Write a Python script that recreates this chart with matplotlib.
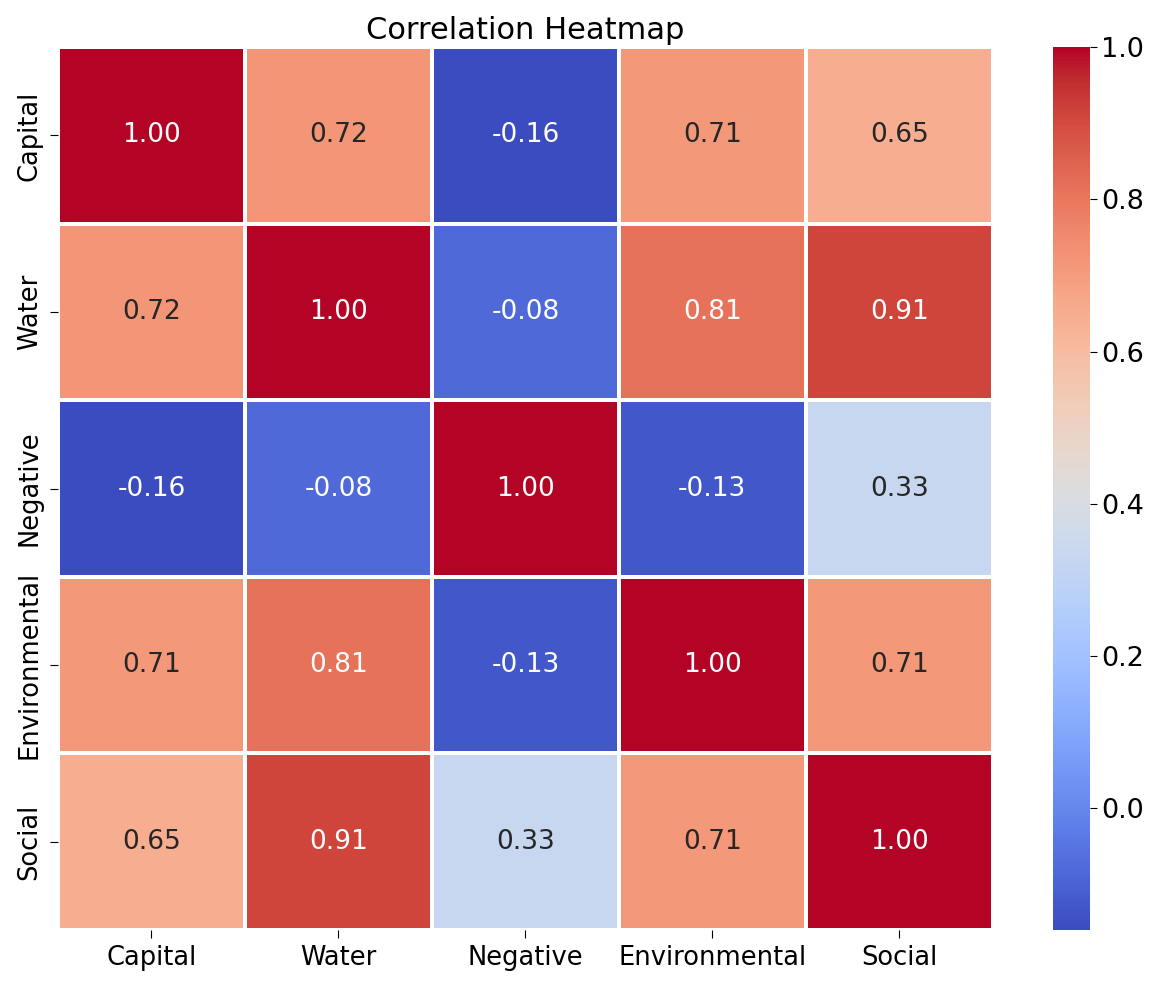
import numpy as np
import matplotlib
matplotlib.use("Agg")
import matplotlib.pyplot as plt
import seaborn as sns

labels = ["Capital", "Water", "Negative", "Environmental", "Social"]

capital = [1.00, 0.72, -0.16, 0.71, 0.65]
water = [0.72, 1.00, -0.08, 0.81, 0.91]
negative = [-0.16, -0.08, 1.00, -0.13, 0.33]
environmental = [0.71, 0.81, -0.13, 1.00, 0.71]
social = [0.65, 0.91, 0.33, 0.71, 1.00]

corr = np.array([capital, water, negative, environmental, social])

fig = plt.figure(figsize=(11.67, 9.81), dpi=100)
ax = fig.add_axes([0.0497, 0.052, 0.801, 0.900])
cax = fig.add_axes([0.902, 0.052, 0.0317, 0.900])

sns.heatmap(
    corr,
    annot=True,
    fmt=".2f",
    cmap="coolwarm",
    linewidths=1.5,
    linecolor="white",
    xticklabels=labels,
    yticklabels=labels,
    ax=ax,
    cbar_ax=cax,
    annot_kws={"size": 19},
)

ax.set_title("Correlation Heatmap", fontsize=22, pad=6)
ax.tick_params(axis="both", labelsize=18.5, length=6, pad=5)
plt.setp(ax.get_yticklabels(), rotation=90, va="center")
plt.setp(ax.get_xticklabels(), rotation=0)
cax.tick_params(labelsize=19.5, length=5)

fig.savefig("out.png", dpi=100)
